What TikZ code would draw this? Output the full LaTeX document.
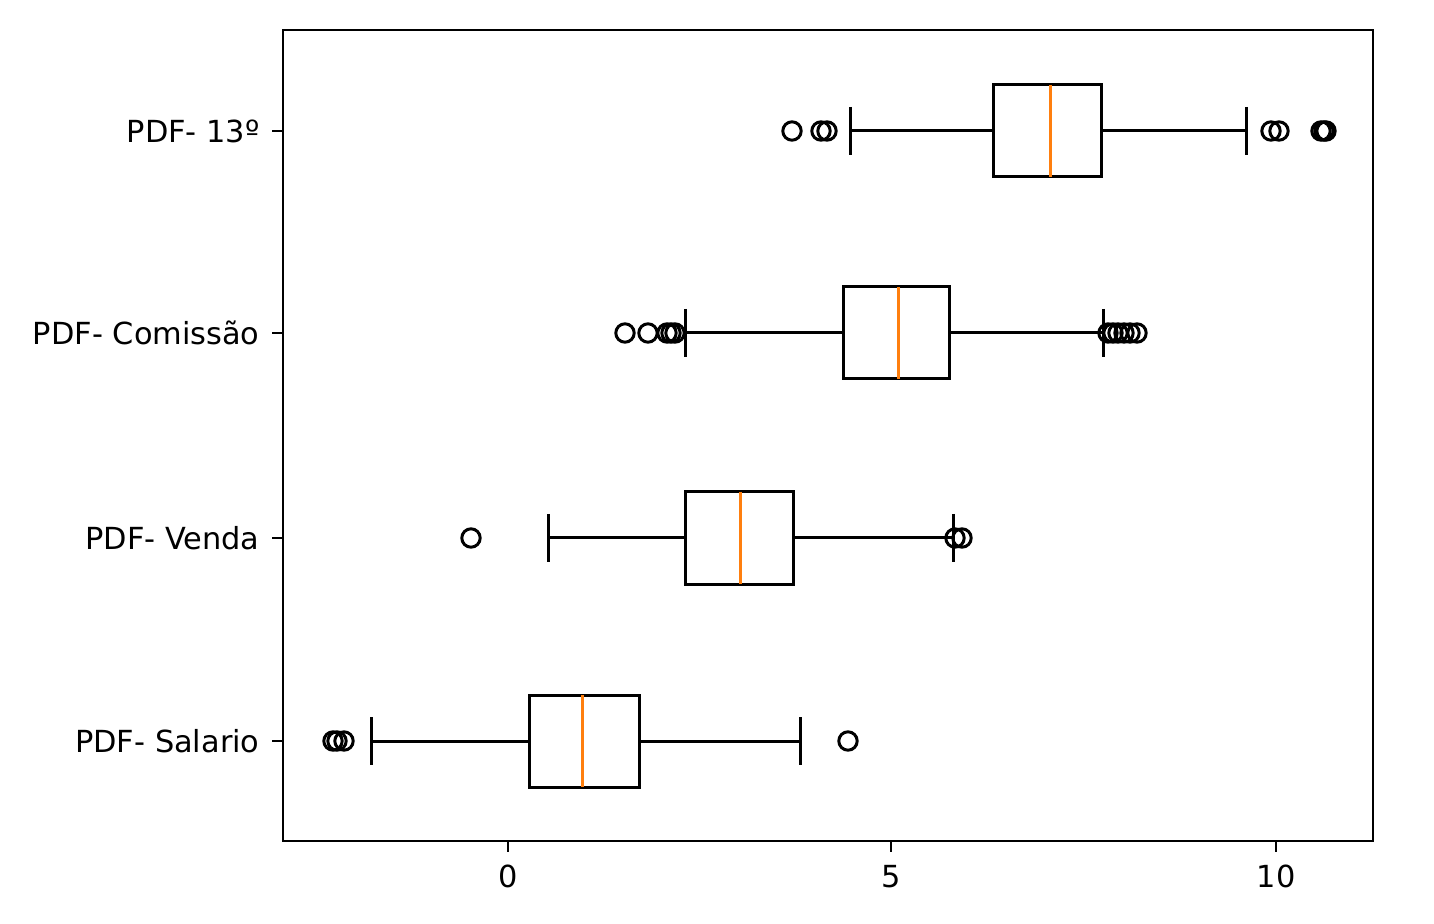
\documentclass[tikz,border=0pt]{standalone}
\usepackage{fontspec}
\setmainfont{DejaVu Sans}
\definecolor{mplorange}{HTML}{FF7F0E}
\begin{document}
\begin{tikzpicture}[x=0.5pt,y=-0.5pt,
  frame/.style={line width=1.2pt},
  bp/.style={line width=1.5pt},
  med/.style={line width=1.5pt,draw=mplorange},
  flier/.style={line width=1.5pt},
  lbl/.style={font=\fontsize{15.2}{18}\selectfont,inner sep=0pt}]
\useasboundingbox[fill=white] (0,0) rectangle (1434,924);
% axes frame
\draw[frame] (283,30) rectangle (1373,841);
% x ticks
\foreach \x/\t in {508/0,891/5,1276/10}{
  \draw[frame] (\x,841) -- (\x,852);
  \node[lbl,anchor=north] (xt\t) at (\x,865) {\t};
}
% y ticks
\foreach \y in {131,333,538,741}{
  \draw[frame] (283,\y) -- (272,\y);
}
\node[lbl,anchor=east] (l1) at (260,131) {PDF- 13º};
\node[lbl,anchor=east] (l2) at (260,333) {PDF- Comissão};
\node[lbl,anchor=east] (l3) at (260,538) {PDF- Venda};
\node[lbl,anchor=east] (l4) at (260,741) {PDF- Salario};
% boxes: y, low whisker, q1, median, q3, high whisker
\foreach \y/\lw/\qa/\m/\qb/\hw in {131/850/993/1050/1101/1246, 333/685/843/898/949/1103, 538/548/685/740/793/953, 741/371/529/582/639/800}{
  \draw[bp] (\lw,\y) -- (\qa,\y);
  \draw[bp] (\qb,\y) -- (\hw,\y);
  \draw[bp] (\lw,\y-24) -- (\lw,\y+24);
  \draw[bp] (\hw,\y-24) -- (\hw,\y+24);
  \draw[bp] (\qa,\y-46) rectangle (\qb,\y+46);
  \draw[med] (\m,\y-46) -- (\m,\y+46);
}
% fliers
\foreach \x in {792,821,827,1271,1279,1321,1324,1326}{\draw[flier] (\x,131) circle (4.6pt);}
\foreach \x in {625,648,667,671,675,1108,1113,1118,1124,1130,1137}{\draw[flier] (\x,333) circle (4.6pt);}
\foreach \x in {471,955,962}{\draw[flier] (\x,538) circle (4.6pt);}
\foreach \x in {333,337,344,848}{\draw[flier] (\x,741) circle (4.6pt);}
\end{tikzpicture}
\end{document}
